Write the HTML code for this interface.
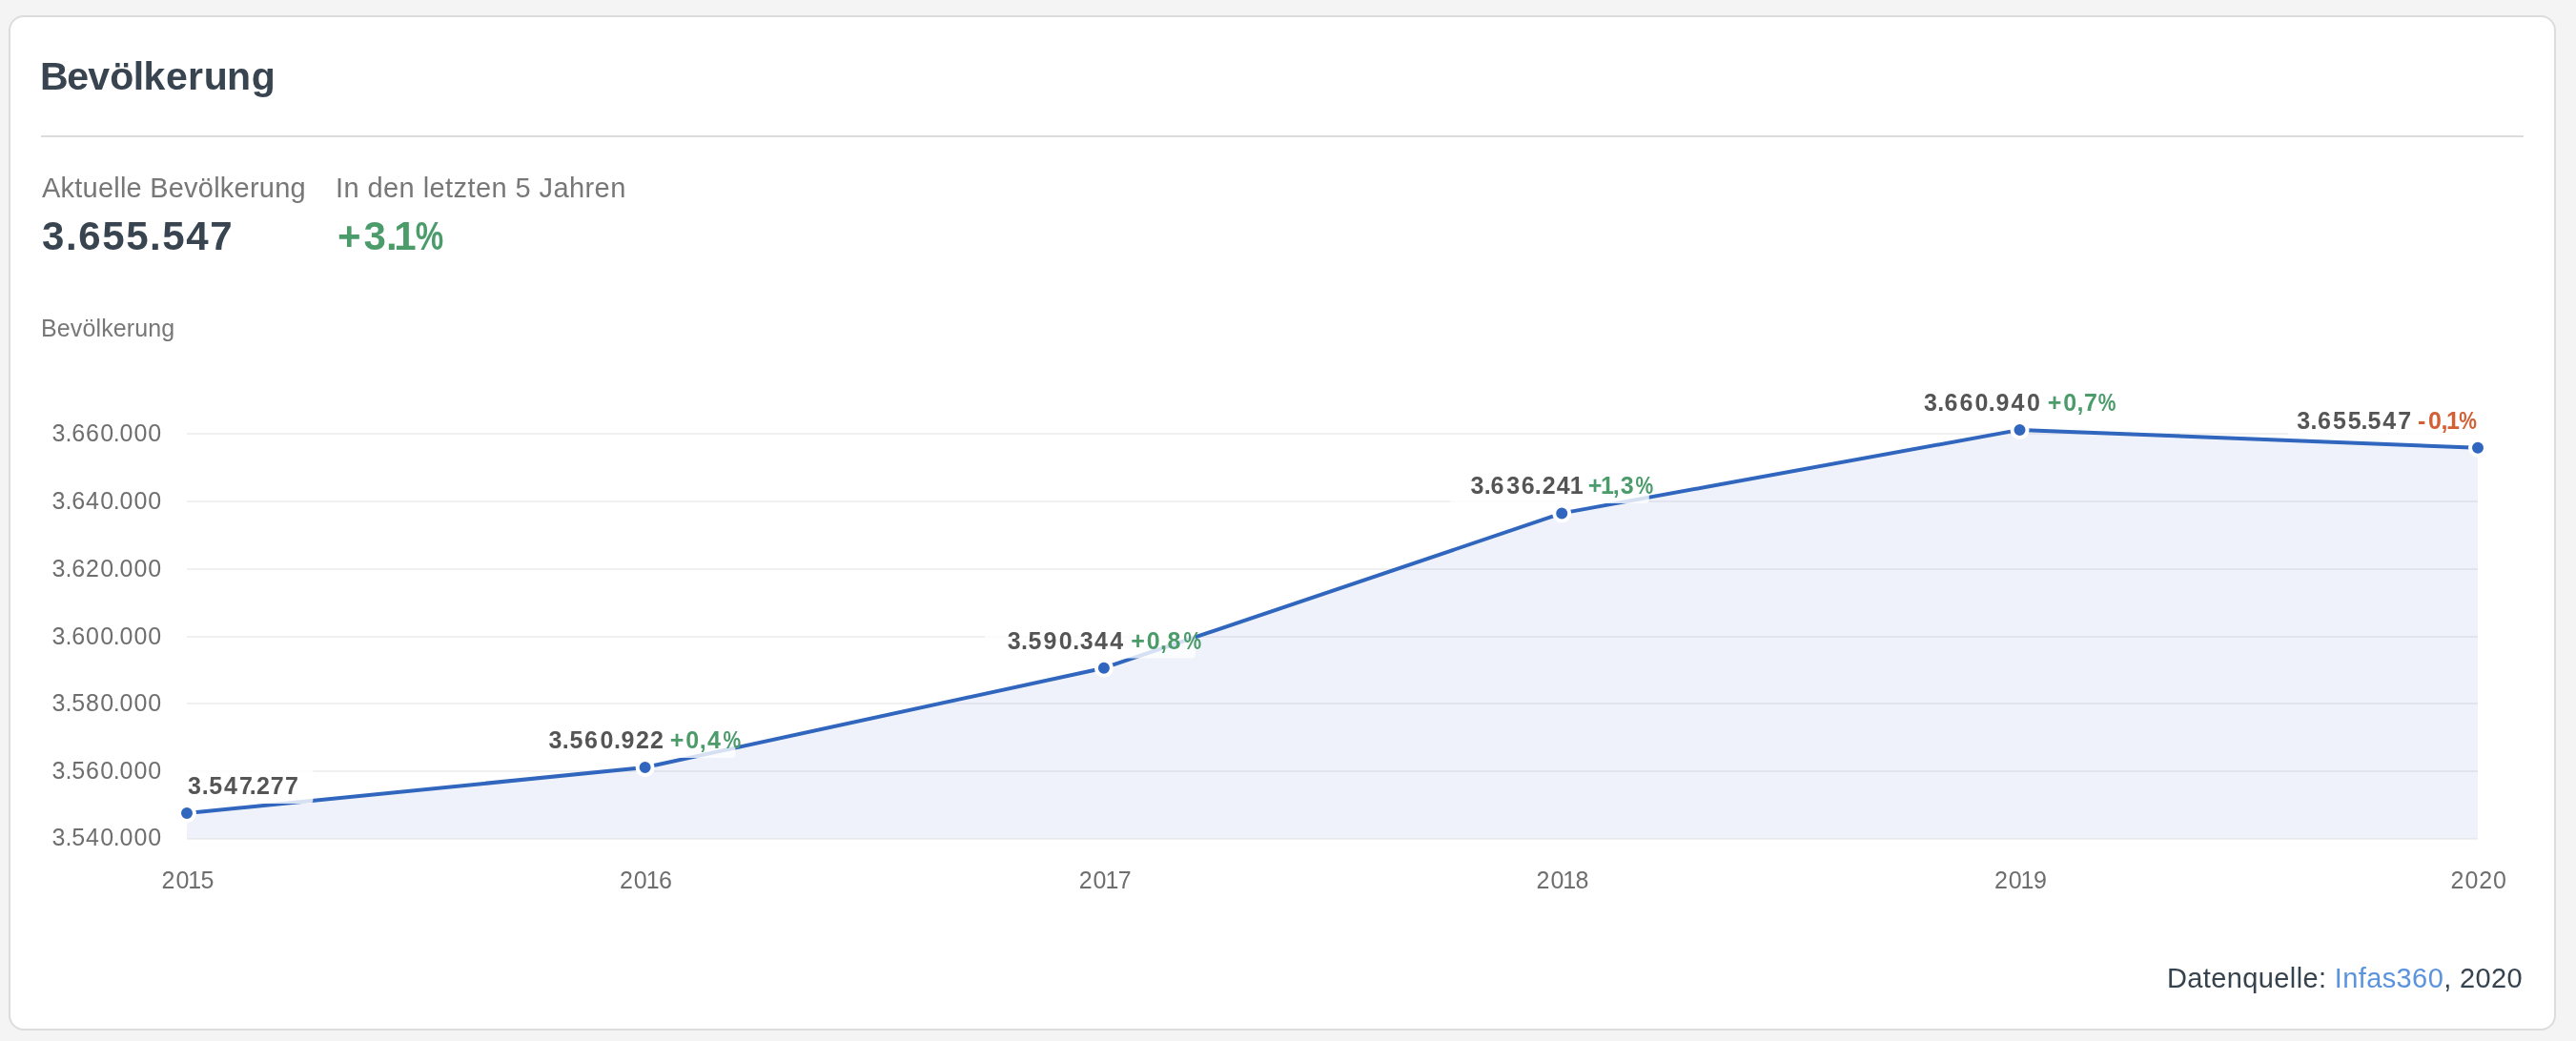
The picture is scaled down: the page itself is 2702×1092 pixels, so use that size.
<!DOCTYPE html>
<html lang="de">
<head>
<meta charset="utf-8">
<title>Bevölkerung</title>
<style>
  html, body { margin: 0; padding: 0; } 
  body {
    width: 2702px; height: 1092px; overflow: hidden;
    background: #f4f4f4;
    font-family: "Liberation Sans", sans-serif;
    position: relative;
  }
  .card {
    position: absolute; left: 9px; top: 16px;
    width: 2668px; height: 1061px;
    background: #fff;
    border: 2px solid #dcdcdc;
    border-radius: 16px;
  }
  .t { will-change: transform; position: absolute; white-space: nowrap; line-height: 1; margin: 0; }
  h2.t { font-size: 41px; font-weight: 700; color: #38444f; left: 43px; top: 60px; letter-spacing: -0.2px; }
  .divider { position: absolute; left: 43px; top: 142px; width: 2604px; height: 2px; background: #dcdcdc; }
  .lbl { font-size: 29px; color: #777; top: 183px; letter-spacing: 0.22px; }
  .val { font-size: 42px; font-weight: 700; color: #38444f; top: 227px; letter-spacing: 1.6px; }
  .green { color: #4c9a68; }
  .axis-title { font-size: 25px; color: #777; left: 43px; top: 332px; letter-spacing: 0.12px; }
  .source { font-size: 29px; color: #36424d; right: 55.6px; top: 1012px; letter-spacing: 0.38px; }
  .source a { color: #5b93dc; text-decoration: none; }
  svg { will-change: transform; position: absolute; left: 0; top: 0; }
  svg text { font-family: "Liberation Sans", sans-serif; }
</style>
</head>
<body>
<div class="card"></div>

<div class="divider"></div>

<div class="t lbl" style="left:44px">Aktuelle Bevölkerung</div>
<div class="t val" style="left:44px">3.655.547</div>
<div class="t lbl" style="left:352px; letter-spacing:0.42px">In den letzten 5 Jahren</div>

<div class="t axis-title">Bevölkerung</div>

<svg width="2702" height="1092" viewBox="0 0 2702 1092">
  <!-- card title -->
  <text x="41.9 70.2 92.3 115.2 139.8 150.6 174 197.1 213.7 238.1 263.7" y="94" font-size="41" font-weight="700" fill="#38444f">Bevölkerung</text>
  <!-- 5 year change: +3.1% -->
  <g font-size="42" font-weight="700" fill="#4b9b6b">
    <text x="353.9 381.6 405 413.3" y="262">+3.1</text>
    <text transform="translate(435.8 262) scale(0.79 1)">%</text>
  </g>
  <!-- grid lines -->
  <g stroke="#f0f0f0" stroke-width="2">
    <line x1="196" x2="2599" y1="455" y2="455"/>
    <line x1="196" x2="2599" y1="526" y2="526"/>
    <line x1="196" x2="2599" y1="597" y2="597"/>
    <line x1="196" x2="2599" y1="668" y2="668"/>
    <line x1="196" x2="2599" y1="738" y2="738"/>
    <line x1="196" x2="2599" y1="809" y2="809"/>
    <line x1="196" x2="2599" y1="880" y2="880"/>
  </g>
  <!-- y labels -->
  <g font-size="25" fill="#6e6e6e">
    <text x="54.6 68.4 75.2 90.1 105.3 118.8 125.5 140.4 155.3" y="462.7">3.660.000</text>
    <text x="54.6 68.4 75.2 90.1 105.3 118.8 125.5 140.4 155.3" y="533.7">3.640.000</text>
    <text x="54.6 68.4 75.2 90.1 105.3 118.8 125.5 140.4 155.3" y="604.7">3.620.000</text>
    <text x="54.6 68.4 75.2 90.1 105.3 118.8 125.5 140.4 155.3" y="675.7">3.600.000</text>
    <text x="54.6 68.4 75.2 90.1 105.3 118.8 125.5 140.4 155.3" y="745.7">3.580.000</text>
    <text x="54.6 68.4 75.2 90.1 105.3 118.8 125.5 140.4 155.3" y="816.7">3.560.000</text>
    <text x="54.6 68.4 75.2 90.1 105.3 118.8 125.5 140.4 155.3" y="887.2">3.540.000</text>
  </g>
  <!-- area -->
  <path d="M196 853.1 L676.6 805 L1157.9 700.7 L1638.2 538.4 L2118.5 450.9 L2599 469.8 L2599 879.5 L196 879.5 Z" fill="rgba(48,90,190,0.08)"/>
  <path d="M196 853.1 L676.6 805 L1157.9 700.7 L1638.2 538.4 L2118.5 450.9 L2599 469.8" fill="none" stroke="#3066be" stroke-width="4" stroke-linejoin="round"/>
  <!-- points -->
  <g fill="#3066be" stroke="#fff" stroke-width="4">
    <circle cx="196" cy="853.1" r="8"/>
    <circle cx="676.6" cy="805" r="8"/>
    <circle cx="1157.9" cy="700.7" r="8"/>
    <circle cx="1638.2" cy="538.4" r="8"/>
    <circle cx="2118.5" cy="450.9" r="8"/>
    <circle cx="2599" cy="469.8" r="8"/>
  </g>
  <!-- label boxes -->
  <g fill="rgba(255,255,255,0.8)">
    <rect x="196" y="805" width="132.4" height="38" rx="4"/>
    <rect x="552.4" y="757" width="219" height="38" rx="4"/>
    <rect x="1033" y="652.5" width="221" height="38" rx="4"/>
    <rect x="1520.8" y="490" width="209" height="38" rx="4"/>
    <rect x="2000" y="403" width="219" height="38" rx="4"/>
    <rect x="2400.2" y="422" width="199" height="38" rx="4"/>
  </g>
  <!-- data labels -->
  <g font-size="25" font-weight="700" fill="#555">
    <text x="197.1 211.7 219.2 234.9 251.1 261.8 269.0 283.8 299.1" y="833.0">3.547.277</text>
    <text x="575.4 589.7 597.5 612.9 629.4 643.9 651.5 667.0 682.1" y="784.6">3.560.922</text><text x="702.8 719.3 733.8 741.9" y="784.6" fill="#4b9b6b">+0,4</text><text transform="translate(758.5 784.6) scale(0.84 1)" fill="#4b9b6b">%</text>
    <text x="1056.7 1070.9 1078.6 1094.4 1110.7 1125.2 1132.8 1148.1 1164.3" y="680.8">3.590.344</text><text x="1186.2 1202.7 1217.0 1224.6" y="680.8" fill="#4b9b6b">+0,8</text><text transform="translate(1241.5 680.8) scale(0.84 1)" fill="#4b9b6b">%</text>
    <text x="1542.5 1556.8 1563.5 1580.2 1595.8 1609.8 1617.7 1632.8 1646.7" y="517.5">3.636.241</text><text x="1665.8 1678.9 1691.8 1699.8" y="517.5" fill="#4b9b6b">+1,3</text><text transform="translate(1715.6 517.5) scale(0.84 1)" fill="#4b9b6b">%</text>
    <text x="2017.9 2032.2 2039.6 2055.6 2071.5 2085.8 2093.4 2109.6 2126.0" y="430.8">3.660.940</text><text x="2147.7 2164.2 2178.5 2186.0" y="430.8" fill="#4b9b6b">+0,7</text><text transform="translate(2200.8 430.8) scale(0.84 1)" fill="#4b9b6b">%</text>
    <text x="2409.2 2423.4 2430.9 2446.9 2462.7 2476.4 2483.6 2499.3 2515.3" y="449.9">3.655.547</text><text x="2535.9 2546.9 2560.5 2566.0" y="449.9" fill="#d35f34">-0,1</text><text transform="translate(2579.3 449.9) scale(0.84 1)" fill="#d35f34">%</text>
  </g>
  <!-- x labels -->
  <g font-size="25" fill="#6e6e6e">
    <text x="169.5 184.5 197.3 210.6" y="931.6">2015</text>
    <text x="649.9 664.8 677.7 691.0" y="931.6">2016</text>
    <text x="1131.7 1146.5 1159.4 1172.7" y="931.6">2017</text>
    <text x="1611.6 1626.5 1639.3 1652.6" y="931.6">2018</text>
    <text x="2091.9 2106.8 2119.6 2132.9" y="931.6">2019</text>
    <text x="2570.6 2585.6 2600.3 2614.9" y="931.6">2020</text>
  </g>
</svg>

<div class="t source">Datenquelle: <a>Infas360</a>, 2020</div>
</body>
</html>
